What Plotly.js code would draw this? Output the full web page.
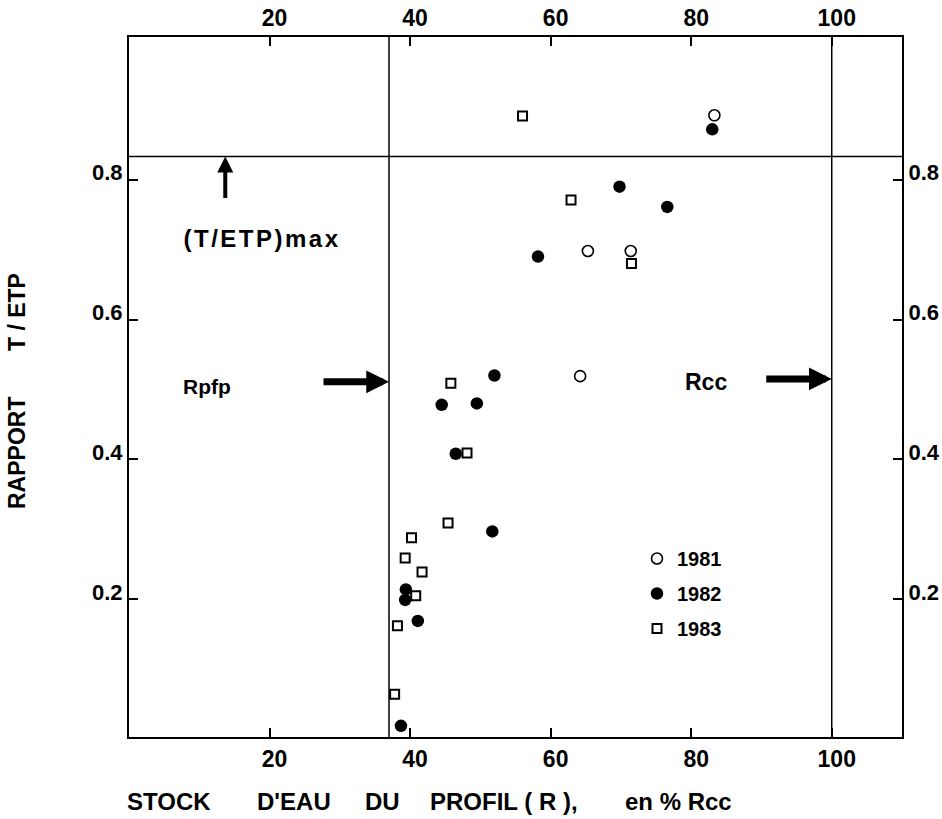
<!DOCTYPE html>
<html><head><meta charset="utf-8">
<script src="https://cdn.plot.ly/plotly-3.0.1.min.js"></script>
<style>body{margin:0;background:#fff}</style>
</head><body><div id="chart" style="width:942px;height:819px"></div>
<script>
// ---- data ----
const x1981 = [83.3, 65.3, 71.4, 64.2];
const y1981 = [0.892, 0.698, 0.698, 0.519];

const x1982 = [83.0, 69.8, 76.6, 58.2, 52.0, 44.5, 49.5, 46.5, 51.7, 39.4, 39.3, 41.1, 38.7];
const y1982 = [0.872, 0.790, 0.761, 0.690, 0.520, 0.478, 0.480, 0.408, 0.297, 0.214, 0.199, 0.169, 0.019];

const x1983 = [56.0, 62.9, 71.5, 45.8, 48.1, 45.4, 40.2, 39.3, 41.7, 40.8, 38.2, 37.8];
const y1983 = [0.891, 0.771, 0.680, 0.509, 0.409, 0.309, 0.288, 0.259, 0.239, 0.205, 0.162, 0.064];

const seriesNames = ['1981', '1982', '1983'];
const xTicks = [20, 40, 60, 80, 100];
const xTickText = ['20', '40', '60', '80', '100'];
const yTicks = [0.2, 0.4, 0.6, 0.8];
const yTickText = ['0.2', '0.4', '0.6', '0.8'];

const RPFP = 37;        // R pfp (vertical line)
const RCC = 100;        // R cc (vertical line)
const TETP_MAX = 0.833; // (T/ETP)max (horizontal line)
const ARROW_Y_RPFP = 0.511;
const ARROW_Y_RCC = 0.515;
const ARROW_X_MAX = 13.7;

// ---- layout geometry ----
const W = 942, H = 819;
const M = {l: 129, r: 40, t: 37, b: 82};
const PW = W - M.l - M.r, PH = H - M.t - M.b;
const px = v => (v - M.l) / PW;
const py = v => 1 - (v - M.t) / PH;

const FONT = 'Liberation Sans, Arial, Helvetica, sans-serif';
const BLK = '#000';
const tf = (s) => ({family: FONT, size: s, weight: 'bold', color: BLK});

const traces = [
  {x: x1981, y: y1981, name: seriesNames[0], type: 'scatter', mode: 'markers', legendgroup: 'a',
   marker: {symbol: 'circle-open', size: 11, color: BLK, line: {width: 1.6, color: BLK}}},
  {x: x1982, y: y1982, name: seriesNames[1], type: 'scatter', mode: 'markers', legendgroup: 'b',
   marker: {symbol: 'circle', size: 12.5, color: BLK}},
  {x: x1983, y: y1983, name: seriesNames[2], type: 'scatter', mode: 'markers', legendgroup: 'c',
   marker: {symbol: 'square-open', size: 9, color: BLK, line: {width: 2, color: BLK}}},
  {x: [], y: [], xaxis: 'x2', yaxis: 'y2', showlegend: false, hoverinfo: 'skip', type: 'scatter', mode: 'markers'}
];

const axX = {
  range: [0, 110], tickvals: xTicks, ticktext: xTickText,
  ticks: 'inside', ticklen: 9, tickwidth: 2, tickcolor: BLK,
  showline: true, linewidth: 2, linecolor: BLK, showgrid: false, zeroline: false,
  tickfont: tf(23), ticklabelshift: 5, fixedrange: true
};
const axY = {
  range: [0.003, 1.004], tickvals: yTicks, ticktext: yTickText,
  ticks: 'inside', ticklen: 9, tickwidth: 2, tickcolor: BLK,
  showline: true, linewidth: 2, linecolor: BLK, showgrid: false, zeroline: false,
  tickfont: tf(22), ticklabelshift: -7, fixedrange: true
};

const layout = {
  width: W, height: H, margin: M,
  paper_bgcolor: '#fff', plot_bgcolor: '#fff',
  font: {family: FONT, color: BLK},
  xaxis: Object.assign({}, axX, {side: 'bottom', anchor: 'y'}),
  xaxis2: Object.assign({}, axX, {side: 'top', overlaying: 'x', anchor: 'y'}),
  yaxis: Object.assign({}, axY, {side: 'left', anchor: 'x'}),
  yaxis2: Object.assign({}, axY, {side: 'right', overlaying: 'y', anchor: 'x'}),
  showlegend: true,
  legend: {x: px(637), y: py(539), xanchor: 'left', yanchor: 'top',
           font: tf(20), bgcolor: 'rgba(0,0,0,0)', traceorder: 'grouped',
           tracegroupgap: 6, itemwidth: 30},
  shapes: [
    {type: 'line', xref: 'x', yref: 'paper', x0: RPFP, x1: RPFP, y0: 0, y1: 1, line: {color: BLK, width: 1.5}},
    {type: 'line', xref: 'x', yref: 'paper', x0: RCC, x1: RCC, y0: 0, y1: 1, line: {color: BLK, width: 1.5}},
    {type: 'line', xref: 'paper', yref: 'y', x0: 0, x1: 1, y0: TETP_MAX, y1: TETP_MAX, line: {color: BLK, width: 1.5}}
  ],
  annotations: [
    // arrows
    {xref: 'x', yref: 'y', x: RPFP, y: ARROW_Y_RPFP, ax: -67, ay: 0, text: '', showarrow: true,
     arrowhead: 2, arrowwidth: 7, arrowsize: 0.65, arrowcolor: BLK},
    {xref: 'x', yref: 'y', x: RCC, y: ARROW_Y_RCC, ax: -67, ay: 0, text: '', showarrow: true,
     arrowhead: 2, arrowwidth: 7, arrowsize: 0.65, arrowcolor: BLK},
    {xref: 'x', yref: 'y', x: ARROW_X_MAX, y: TETP_MAX, ax: 0, ay: 43, text: '', showarrow: true,
     arrowhead: 2, arrowwidth: 4, arrowsize: 0.8, arrowcolor: BLK},
    // labels in the plot
    {xref: 'paper', yref: 'paper', x: px(262), y: py(238), text: '(T/ETP)max', showarrow: false,
     xanchor: 'center', yanchor: 'middle', font: tf(24)},
    {xref: 'paper', yref: 'paper', x: px(207), y: py(386), text: 'Rpfp', showarrow: false,
     xanchor: 'center', yanchor: 'middle', font: tf(21)},
    {xref: 'paper', yref: 'paper', x: px(706), y: py(382), text: 'Rcc', showarrow: false,
     xanchor: 'center', yanchor: 'middle', font: tf(23)},
    // x-axis title, word groups
    {xref: 'paper', yref: 'paper', x: px(125), y: py(802), text: 'STOCK', showarrow: false, xanchor: 'left', yanchor: 'middle', font: tf(24)},
    {xref: 'paper', yref: 'paper', x: px(255), y: py(802), text: "D'EAU", showarrow: false, xanchor: 'left', yanchor: 'middle', font: tf(24)},
    {xref: 'paper', yref: 'paper', x: px(363), y: py(802), text: 'DU', showarrow: false, xanchor: 'left', yanchor: 'middle', font: tf(24)},
    {xref: 'paper', yref: 'paper', x: px(428), y: py(802), text: 'PROFIL ( R ),', showarrow: false, xanchor: 'left', yanchor: 'middle', font: tf(24)},
    {xref: 'paper', yref: 'paper', x: px(623), y: py(802), text: 'en % Rcc', showarrow: false, xanchor: 'left', yanchor: 'middle', font: tf(24)},
    // y-axis title, rotated
    {xref: 'paper', yref: 'paper', x: px(17), y: py(312), text: 'T / ETP', showarrow: false, textangle: -90,
     xanchor: 'center', yanchor: 'middle', font: tf(23)},
    {xref: 'paper', yref: 'paper', x: px(17), y: py(453), text: 'RAPPORT', showarrow: false, textangle: -90,
     xanchor: 'center', yanchor: 'middle', font: tf(23)}
  ]
};

Plotly.newPlot('chart', traces, layout, {staticPlot: true, displayModeBar: false}).then(function (gd) {
  // the original lettering of "(T/ETP)max" is widely spaced
  gd.querySelectorAll('.annotation-text').forEach(function (t) {
    if (t.textContent === '(T/ETP)max') t.style.letterSpacing = '2.5px';
  });
});
</script>
</body></html>
